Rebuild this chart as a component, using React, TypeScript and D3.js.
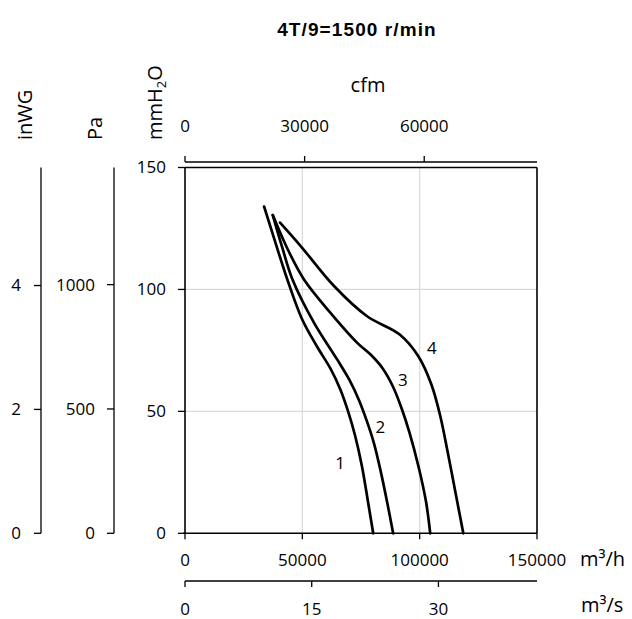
import React from "react";
import * as d3 from "d3";

// Curves: [flow m³/h (thousands), pressure mmH2O]
const curve1: [number, number][] = [
  [33.7, 134.0], [38.6, 119], [43.6, 104.1], [49.8, 88], [56, 77], [62.0, 67.5], [66.2, 59],
  [69.5, 50], [72.5, 40], [75.4, 27.5], [77.8, 14], [80.2, 0],
];
const curve2: [number, number][] = [
  [37.4, 130.5], [41.5, 117], [45.8, 104.1], [55.0, 86.3], [64.9, 71.2], [70, 63], [74.1, 54.7],
  [77.5, 46], [80.5, 37], [83.5, 25], [86.3, 12], [88.7, 0],
];
const curve3: [number, number][] = [
  [37.4, 130.5], [43.5, 117], [50.7, 104.1], [62.0, 90.4], [73.4, 78.1], [79.2, 73.2],
  [84.4, 67.4], [88.6, 60.2], [92.4, 51], [95.6, 41.5], [99.6, 27], [102.7, 13], [104.5, 0],
];
const curve4: [number, number][] = [
  [40.5, 127.4], [49.3, 117.8], [63.5, 101.4], [77.6, 89.0], [91.5, 81.5], [99.5, 72.5],
  [105.0, 61], [108.8, 48], [112.0, 33], [115.4, 16], [118.6, 0],
];
const curves = [curve1, curve2, curve3, curve4];
const curveLabels = ["1", "2", "3", "4"];
const curveLabelPos: [number, number][] = [[66.1, 28.8], [83.2, 43.6], [92.8, 62.9], [105.2, 76.0]];

const flowTicks = [0, 50000, 100000, 150000];
const pressureTicks = [0, 50, 100, 150];
const paTicks = [0, 500, 1000];
const inwgTicks = [0, 2, 4];
const cfmTicks = [0, 30000, 60000];
const m3sTicks = [0, 15, 30];
const gridX = [50000, 100000];
const gridY = [50, 100];

const title = "4T/9=1500 r/min";

const FONT = "'Open Sans', sans-serif";

export default function App() {
  const x0 = 185, x1 = 537, yB = 533.3, yT = 167.5;
  const maxFlow = 150000, maxP = 150;
  const x = d3.scaleLinear().domain([0, maxFlow]).range([x0, x1]);
  const xk = d3.scaleLinear().domain([0, maxFlow / 1000]).range([x0, x1]);
  const y = d3.scaleLinear().domain([0, maxP]).range([yB, yT]);
  const yPa = d3.scaleLinear().domain([0, maxP * 9.80665]).range([yB, yT]);
  const yIn = d3.scaleLinear().domain([0, maxP / 25.4]).range([yB, yT]);
  const xCfm = d3.scaleLinear().domain([0, maxFlow * 0.588578]).range([x0, x1]);
  const xM3s = d3.scaleLinear().domain([0, maxFlow / 3600]).range([x0, x1]);

  const line = d3
    .line<[number, number]>()
    .x((d) => xk(d[0]))
    .y((d) => y(d[1]))
    .curve(d3.curveCatmullRom.alpha(0.5));

  const tickFs = 17;
  const titleFs = 20;
  const stroke = "#000";

  return (
    <svg width={632} height={619}
      style={{ display: "block", position: "absolute", left: 0, top: 0, fontFamily: FONT }}>
      {/* title */}
      <text x={357} y={36} textAnchor="middle" fontFamily="'Liberation Sans', Arial, sans-serif"
        fontWeight="bold" fontSize={19} letterSpacing={1.1} fill="#000">{title}</text>

      {/* gridlines */}
      {gridX.map((g) => (
        <line key={"gx" + g} x1={x(g)} x2={x(g)} y1={yT} y2={yB} stroke="#d9d9d9" strokeWidth={1.2} />
      ))}
      {gridY.map((g) => (
        <line key={"gy" + g} x1={x0} x2={x1} y1={y(g)} y2={y(g)} stroke="#d9d9d9" strokeWidth={1.2} />
      ))}

      {/* frame */}
      <line x1={x0} x2={x1} y1={yT} y2={yT} stroke={stroke} strokeWidth={1.6} />
      <line x1={x1} x2={x1} y1={yT} y2={yB} stroke={stroke} strokeWidth={1.6} />
      <line x1={x0} x2={x0} y1={yT} y2={yB} stroke={stroke} strokeWidth={1.6} />
      <line x1={x0 - 2} x2={x1} y1={yB} y2={yB} stroke={stroke} strokeWidth={1.6} />

      {/* curves */}
      {curves.map((c, i) => (
        <path key={"c" + i} d={line(c) || ""} fill="none" stroke="#000" strokeWidth={2.7}
          strokeLinejoin="round" strokeLinecap="round" />
      ))}
      {curves.map((c, i) => (
        <text key={"cl" + i} x={xk(curveLabelPos[i][0])} y={y(curveLabelPos[i][1])} dy="0.35em"
          textAnchor="middle" fontSize={tickFs} fill="#000">{curveLabels[i]}</text>
      ))}

      {/* mmH2O axis ticks */}
      {pressureTicks.map((t) => (
        <g key={"p" + t}>
          <line x1={x0 - 7} x2={x0} y1={y(t)} y2={y(t)} stroke={stroke} strokeWidth={1.3} />
          <text x={166} y={y(t)} dy="0.35em" textAnchor="end" fontSize={tickFs}>{t}</text>
        </g>
      ))}

      {/* Pa axis */}
      <line x1={114} x2={114} y1={yT} y2={yB} stroke={stroke} strokeWidth={1.3} />
      {paTicks.map((t) => (
        <g key={"pa" + t}>
          <line x1={107} x2={114} y1={yPa(t)} y2={yPa(t)} stroke={stroke} strokeWidth={1.3} />
          <text x={95} y={yPa(t)} dy="0.35em" textAnchor="end" fontSize={tickFs}>{t}</text>
        </g>
      ))}

      {/* inWG axis */}
      <line x1={41} x2={41} y1={yT} y2={yB} stroke={stroke} strokeWidth={1.3} />
      {inwgTicks.map((t) => (
        <g key={"in" + t}>
          <line x1={34} x2={41} y1={yIn(t)} y2={yIn(t)} stroke={stroke} strokeWidth={1.3} />
          <text x={21} y={yIn(t)} dy="0.35em" textAnchor="end" fontSize={tickFs}>{t}</text>
        </g>
      ))}

      {/* vertical axis titles */}
      <text transform="translate(32,140) rotate(-90)" fontSize={titleFs}>inWG</text>
      <text transform="translate(102,140) rotate(-90)" fontSize={titleFs}>Pa</text>
      <text transform="translate(162,140) rotate(-90)" fontSize={titleFs}>
        mmH<tspan fontSize={13} dy={4}>2</tspan><tspan dy={-4}>O</tspan>
      </text>

      {/* m³/h axis ticks */}
      {flowTicks.map((t) => (
        <g key={"f" + t}>
          <line x1={x(t)} x2={x(t)} y1={yB} y2={yB + 6} stroke={stroke} strokeWidth={1.3} />
          <text x={x(t)} y={566} textAnchor="middle" fontSize={tickFs}>{t}</text>
        </g>
      ))}
      <text x={580} y={566} fontSize={titleFs}>m³/h</text>

      {/* m³/s axis */}
      <line x1={x0} x2={x1} y1={581} y2={581} stroke={stroke} strokeWidth={1.3} />
      {m3sTicks.map((t) => (
        <g key={"s" + t}>
          <line x1={xM3s(t)} x2={xM3s(t)} y1={581} y2={587} stroke={stroke} strokeWidth={1.3} />
          <text x={xM3s(t)} y={615} textAnchor="middle" fontSize={tickFs}>{t}</text>
        </g>
      ))}
      <text x={581} y={612} fontSize={titleFs}>m³/s</text>

      {/* cfm axis */}
      <line x1={x0} x2={x1} y1={162} y2={162} stroke={stroke} strokeWidth={1.3} />
      {cfmTicks.map((t) => (
        <g key={"cfm" + t}>
          <line x1={xCfm(t)} x2={xCfm(t)} y1={156} y2={162} stroke={stroke} strokeWidth={1.3} />
          <text x={xCfm(t)} y={131.5} textAnchor="middle" fontSize={tickFs}>{t}</text>
        </g>
      ))}
      <text x={368} y={92} textAnchor="middle" fontSize={titleFs}>cfm</text>
    </svg>
  );
}
